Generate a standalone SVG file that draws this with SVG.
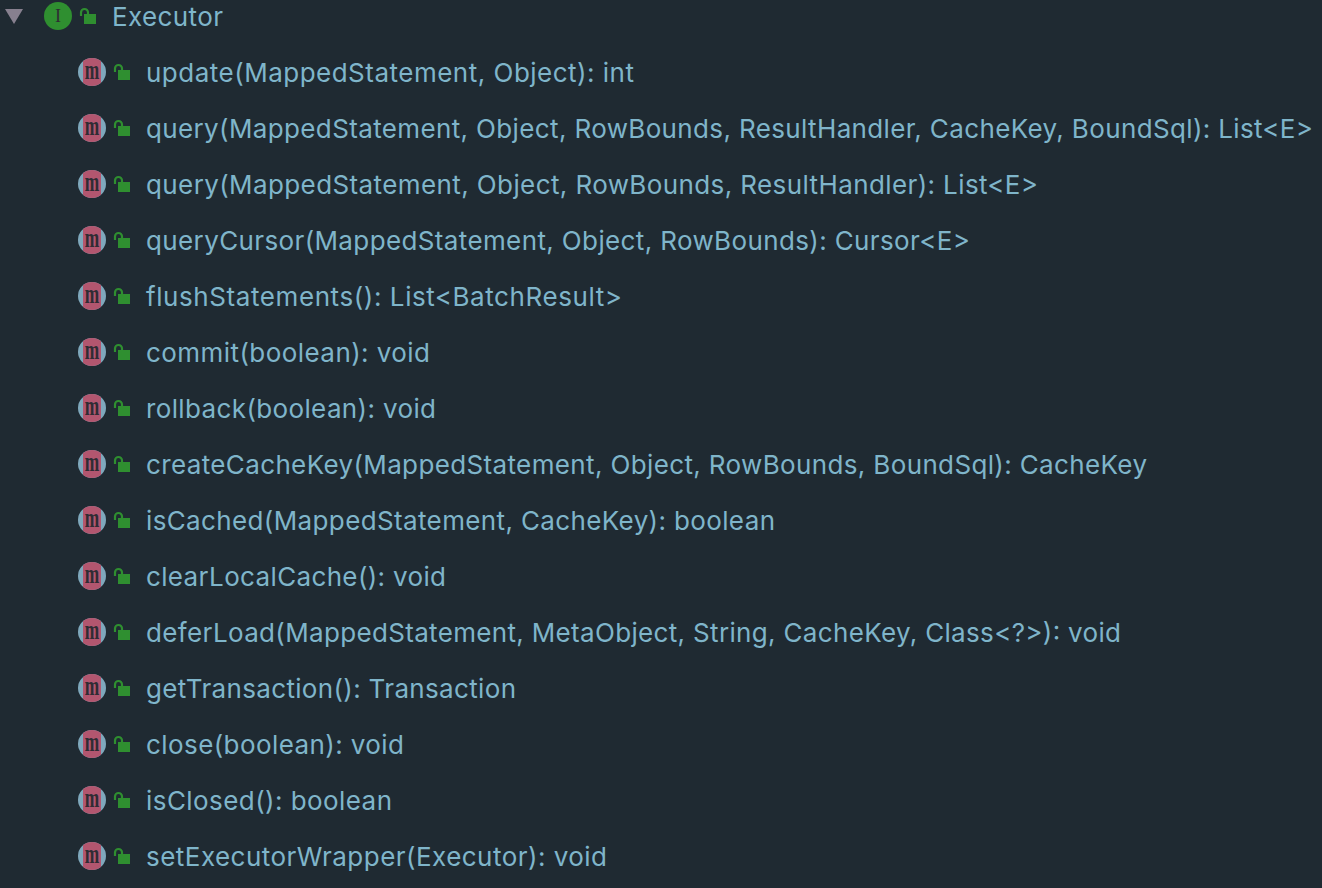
<svg xmlns="http://www.w3.org/2000/svg" width="1322" height="888" viewBox="0 0 1322 888">
<style>
text.l{font-family:"Inter","Liberation Sans",sans-serif;font-size:26px;fill:#7fb5ca}
text.g{font-family:"Liberation Serif",serif;fill:#2f2c34}
</style>
<defs>
<clipPath id="c"><rect x="-9" y="-14" width="18" height="28"/></clipPath>
<g id="lock"><path d="M-7 0V-3.500a3.500 3.500 0 0 1 7 0V-2" fill="none" stroke="#2f8f30" stroke-width="2.200"/><rect x="-4" y="-2" width="12" height="10" fill="#2f8f30"/></g>
<g id="m"><circle r="14" fill="#7fa8bc"/><circle r="14" fill="#b2566f" clip-path="url(#c)"/><text class="g" y="7" text-anchor="middle" font-size="28" font-weight="bold" transform="scale(.62,1)">m</text></g>
</defs>
<rect width="1322" height="888" fill="#1f2a32"/>
<g id="connectors"/>
<g id="root">
<path d="M5 9H23L14 24Z" fill="#87808f"/>
<circle cx="58" cy="16" r="14" fill="#2f8f30"/>
<text class="g" x="58" y="22" text-anchor="middle" font-size="18">I</text>
<use href="#lock" x="88" y="16"/>
<text class="l" x="112" y="26" textLength="111">Executor</text>
</g>
<g id="n1"><use href="#m" x="92" y="72"/><use href="#lock" x="122" y="72"/><text class="l" x="146" y="82" textLength="488">update(MappedStatement, Object): int</text></g>
<g id="n2"><use href="#m" x="92" y="128"/><use href="#lock" x="122" y="128"/><text class="l" x="146" y="138" textLength="1167">query(MappedStatement, Object, RowBounds, ResultHandler, CacheKey, BoundSql): List&lt;E&gt;</text></g>
<g id="n3"><use href="#m" x="92" y="184"/><use href="#lock" x="122" y="184"/><text class="l" x="146" y="194" textLength="892">query(MappedStatement, Object, RowBounds, ResultHandler): List&lt;E&gt;</text></g>
<g id="n4"><use href="#m" x="92" y="240"/><use href="#lock" x="122" y="240"/><text class="l" x="146" y="250" textLength="824">queryCursor(MappedStatement, Object, RowBounds): Cursor&lt;E&gt;</text></g>
<g id="n5"><use href="#m" x="92" y="296"/><use href="#lock" x="122" y="296"/><text class="l" x="146" y="306" textLength="476">flushStatements(): List&lt;BatchResult&gt;</text></g>
<g id="n6"><use href="#m" x="92" y="352"/><use href="#lock" x="122" y="352"/><text class="l" x="146" y="362" textLength="284">commit(boolean): void</text></g>
<g id="n7"><use href="#m" x="92" y="408"/><use href="#lock" x="122" y="408"/><text class="l" x="146" y="418" textLength="290">rollback(boolean): void</text></g>
<g id="n8"><use href="#m" x="92" y="464"/><use href="#lock" x="122" y="464"/><text class="l" x="146" y="474" textLength="1001">createCacheKey(MappedStatement, Object, RowBounds, BoundSql): CacheKey</text></g>
<g id="n9"><use href="#m" x="92" y="520"/><use href="#lock" x="122" y="520"/><text class="l" x="146" y="530" textLength="629">isCached(MappedStatement, CacheKey): boolean</text></g>
<g id="n10"><use href="#m" x="92" y="576"/><use href="#lock" x="122" y="576"/><text class="l" x="146" y="586" textLength="300">clearLocalCache(): void</text></g>
<g id="n11"><use href="#m" x="92" y="632"/><use href="#lock" x="122" y="632"/><text class="l" x="146" y="642" textLength="975">deferLoad(MappedStatement, MetaObject, String, CacheKey, Class&lt;?&gt;): void</text></g>
<g id="n12"><use href="#m" x="92" y="688"/><use href="#lock" x="122" y="688"/><text class="l" x="146" y="698" textLength="370">getTransaction(): Transaction</text></g>
<g id="n13"><use href="#m" x="92" y="744"/><use href="#lock" x="122" y="744"/><text class="l" x="146" y="754" textLength="258">close(boolean): void</text></g>
<g id="n14"><use href="#m" x="92" y="800"/><use href="#lock" x="122" y="800"/><text class="l" x="146" y="810" textLength="246">isClosed(): boolean</text></g>
<g id="n15"><use href="#m" x="92" y="856"/><use href="#lock" x="122" y="856"/><text class="l" x="146" y="866" textLength="461">setExecutorWrapper(Executor): void</text></g>
</svg>
